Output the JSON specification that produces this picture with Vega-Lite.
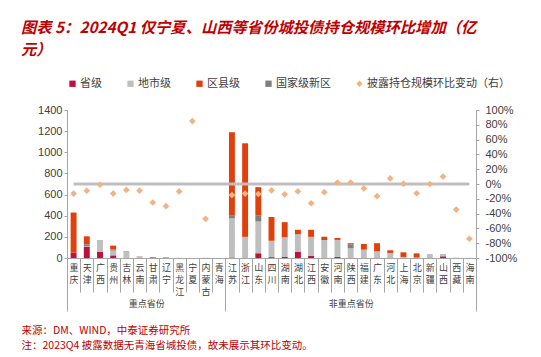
{
  "$schema": "https://vega.github.io/schema/vega-lite/v6.json",
  "padding": {"left": 21, "top": 20, "right": 5, "bottom": 6},
  "width": 409,
  "height": 148,
  "background": "white",
  "title": {
    "text": ["图表 5：2024Q1 仅宁夏、山西等省份城投债持仓规模环比增加（亿", "元）"],
    "anchor": "start",
    "frame": "group",
    "dx": -46,
    "font": "Noto Sans CJK SC",
    "fontSize": 15.3,
    "fontWeight": "bold",
    "fontStyle": "italic",
    "color": "#C00000",
    "lineHeight": 22,
    "offset": 20
  },
  "config": {
    "view": {"stroke": null},
    "font": "Noto Sans CJK SC"
  },
  "datasets": {
    "prov": [
      {"p": "重庆", "省级": 50, "地市级": 0, "区县级": 380, "国家级新区": 0, "chg": -0.13},
      {"p": "天津", "省级": 105, "地市级": 5, "区县级": 75, "国家级新区": 20, "chg": -0.09},
      {"p": "广西", "省级": 60, "地市级": 110, "区县级": 0, "国家级新区": 0, "chg": -0.01},
      {"p": "贵州", "省级": 25, "地市级": 45, "区县级": 35, "国家级新区": 12, "chg": -0.13},
      {"p": "吉林", "省级": 0, "地市级": 62, "区县级": 3, "国家级新区": 0, "chg": -0.08},
      {"p": "云南", "省级": 0, "地市级": 14, "区县级": 2, "国家级新区": 0, "chg": -0.09},
      {"p": "甘肃", "省级": 5, "地市级": 2, "区县级": 3, "国家级新区": 0, "chg": -0.25},
      {"p": "辽宁", "省级": 3, "地市级": 3, "区县级": 2, "国家级新区": 0, "chg": -0.3},
      {"p": "黑龙江", "省级": 0, "地市级": 2, "区县级": 0, "国家级新区": 0, "chg": -0.1},
      {"p": "宁夏", "省级": 0, "地市级": 1, "区县级": 0, "国家级新区": 0, "chg": 0.85},
      {"p": "内蒙古", "省级": 0, "地市级": 0, "区县级": 1, "国家级新区": 0, "chg": -0.47},
      {"p": "青海", "省级": 0, "地市级": 0, "区县级": 0, "国家级新区": 0, "chg": null},
      {"p": "江苏", "省级": 5, "地市级": 370, "区县级": 790, "国家级新区": 25, "chg": -0.15},
      {"p": "浙江", "省级": 0, "地市级": 200, "区县级": 885, "国家级新区": 0, "chg": -0.13},
      {"p": "山东", "省级": 45, "地市级": 300, "区县级": 265, "国家级新区": 60, "chg": -0.135},
      {"p": "四川", "省级": 8, "地市级": 155, "区县级": 225, "国家级新区": 0, "chg": -0.085},
      {"p": "湖南", "省级": 12, "地市级": 184, "区县级": 143, "国家级新区": 0, "chg": -0.14},
      {"p": "湖北", "省级": 57, "地市级": 168, "区县级": 42, "国家级新区": 0, "chg": -0.1},
      {"p": "江西", "省级": 19, "地市级": 181, "区县级": 67, "国家级新区": 0, "chg": -0.26},
      {"p": "安徽", "省级": 0, "地市级": 171, "区县级": 29, "国家级新区": 0, "chg": -0.11},
      {"p": "河南", "省级": 9, "地市级": 162, "区县级": 19, "国家级新区": 0, "chg": 0.02},
      {"p": "陕西", "省级": 0, "地市级": 92, "区县级": 13, "国家级新区": 35, "chg": 0.02},
      {"p": "福建", "省级": 0, "地市级": 79, "区县级": 54, "国家级新区": 0, "chg": -0.06},
      {"p": "广东", "省级": 0, "地市级": 63, "区县级": 77, "国家级新区": 0, "chg": -0.165},
      {"p": "河北", "省级": 0, "地市级": 48, "区县级": 25, "国家级新区": 0, "chg": 0.075},
      {"p": "上海", "省级": 0, "地市级": 10, "区县级": 44, "国家级新区": 0, "chg": 0.005},
      {"p": "北京", "省级": 0, "地市级": 4, "区县级": 40, "国家级新区": 0, "chg": -0.125},
      {"p": "新疆", "省级": 0, "地市级": 38, "区县级": 0, "国家级新区": 0, "chg": 0.0},
      {"p": "山西", "省级": 16, "地市级": 22, "区县级": 0, "国家级新区": 0, "chg": 0.1},
      {"p": "西藏", "省级": 0, "地市级": 3, "区县级": 0, "国家级新区": 0, "chg": -0.345},
      {"p": "海南", "省级": 0, "地市级": 1, "区县级": 0, "国家级新区": 0, "chg": -0.74}
    ],
    "groups": [
      {"grp": "重点省份", "n": 12},
      {"grp": "非重点省份", "n": 19}
    ]
  },
  "layer": [
    {
      "data": {"name": "prov"},
      "encoding": {
        "x": {
          "field": "p",
          "type": "nominal",
          "scale": {
            "domain": ["重庆", "天津", "广西", "贵州", "吉林", "云南", "甘肃", "辽宁", "黑龙江", "宁夏", "内蒙古", "青海", "江苏", "浙江", "山东", "四川", "湖南", "湖北", "江西", "安徽", "河南", "陕西", "福建", "广东", "河北", "上海", "北京", "新疆", "山西", "西藏", "海南"],
            "paddingInner": 0,
            "paddingOuter": 0
          },
          "axis": {
            "title": null,
            "labelExpr": "split(datum.label, '')",
            "labelAngle": 0,
            "labelFontSize": 9,
            "labelLineHeight": 12,
            "labelBaseline": "top",
            "labelPadding": -29,
            "labelColor": "#404040",
            "labelOverlap": false,
            "tickBand": "extent",
            "tickSize": 34,
            "tickColor": "#A6A6A6",
            "domainColor": "#A6A6A6"
          }
        }
      },
      "layer": [
        {
          "transform": [{"fold": ["省级", "地市级", "区县级", "国家级新区"], "as": ["type", "value"]}],
          "mark": {"type": "bar", "width": {"band": 0.45}},
          "encoding": {
            "y": {
              "field": "value",
              "type": "quantitative",
              "stack": "zero",
              "scale": {"domain": [0, 1400], "nice": false},
              "axis": {
                "orient": "left",
                "title": null,
                "grid": false,
                "format": "d",
                "values": [0, 200, 400, 600, 800, 1000, 1200, 1400],
                "domainColor": "#A6A6A6",
                "tickColor": "#A6A6A6",
                "tickSize": 3,
                "labelPadding": 2,
                "labelFont": "Liberation Sans",
                "labelFontSize": 11,
                "labelColor": "#404040"
              }
            },
            "color": {
              "field": "type",
              "type": "nominal",
              "sort": ["省级", "地市级", "区县级", "国家级新区"],
              "scale": {
                "domain": ["省级", "地市级", "区县级", "国家级新区", "披露持仓规模环比变动（右）"],
                "range": ["#C0103C", "#BFBFBF", "#E0400C", "#7F7F7F", "#F4B183"]
              },
              "legend": {
                "orient": "top",
                "direction": "horizontal",
                "title": null,
                "labelFontSize": 11,
                "labelColor": "#404040",
                "symbolSize": 40,
                "symbolType": "square",
                "columnPadding": 23,
                "labelOffset": 2,
                "offset": 21,
                "encode": {
                  "symbols": {
                    "update": {
                      "shape": {"signal": "datum.value == '披露持仓规模环比变动（右）' ? 'diamond' : 'square'"},
                      "strokeWidth": {"value": 0}
                    }
                  }
                }
              }
            }
          }
        },
        {
          "mark": {"type": "line", "color": "#BFBFBF", "strokeWidth": 3},
          "encoding": {
            "y": {"datum": 0, "type": "quantitative", "scale": {"domain": [-1, 1], "nice": false}, "axis": null}
          }
        },
        {
          "mark": {"type": "point", "shape": "diamond", "filled": true, "size": 45, "opacity": 1},
          "encoding": {
            "y": {
              "field": "chg",
              "type": "quantitative",
              "scale": {"domain": [-1, 1], "nice": false},
              "axis": {
                "orient": "right",
                "title": null,
                "grid": false,
                "values": [-1, -0.8, -0.6, -0.4, -0.2, 0, 0.2, 0.4, 0.6, 0.8, 1],
                "labelExpr": "round(datum.value * 100) + '%'",
                "domainColor": "#A6A6A6",
                "tickColor": "#A6A6A6",
                "tickSize": 3,
                "labelPadding": 6,
                "labelFont": "Liberation Sans",
                "labelFontSize": 11,
                "labelColor": "#404040"
              }
            },
            "color": {"datum": "披露持仓规模环比变动（右）", "type": "nominal"}
          }
        }
      ],
      "resolve": {"scale": {"y": "independent"}}
    },
    {
      "data": {"name": "groups"},
      "mark": {"type": "bar", "opacity": 0},
      "encoding": {
        "x": {
          "field": "n",
          "type": "quantitative",
          "stack": "zero",
          "scale": {"domain": [0, 31], "nice": false, "zero": false},
          "axis": {
            "orient": "bottom",
            "values": [0, 6, 12, 21.5, 31],
            "labelExpr": "datum.value == 6 ? '重点省份' : datum.value == 21.5 ? '非重点省份' : ''",
            "labelOverlap": false,
            "labelFlush": false,
            "tickSize": 53,
            "tickColor": "#A6A6A6",
            "tickOpacity": {"condition": {"test": "datum.value == 6 || datum.value == 21.5", "value": 0}, "value": 1},
            "domain": false,
            "grid": false,
            "labelPadding": -12,
            "labelBaseline": "top",
            "labelFontSize": 9,
            "labelColor": "#404040",
            "title": ["来源：DM、WIND，中泰证券研究所", "注：2023Q4 披露数据无青海省城投债，故未展示其环比变动。"],
            "titleX": -46,
            "titleY": 67,
            "titleAlign": "left",
            "titleAnchor": "start",
            "titleBaseline": "top",
            "titleColor": "#C00000",
            "titleFontSize": 10.5,
            "titleFontWeight": "normal",
            "titleLineHeight": 15.5
          }
        }
      }
    }
  ],
  "resolve": {"scale": {"x": "independent"}}
}
